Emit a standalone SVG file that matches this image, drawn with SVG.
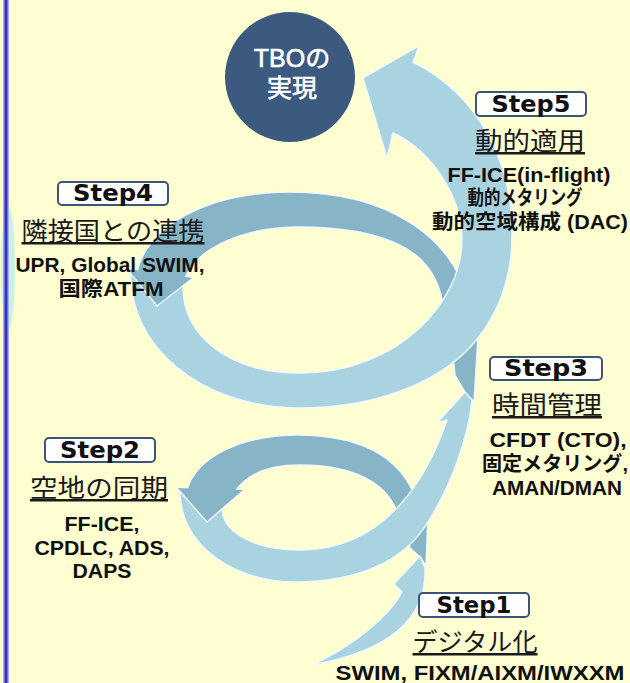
<svg xmlns="http://www.w3.org/2000/svg" width="630" height="683" viewBox="0 0 630 683">
<defs>
<style>
.lt{fill:#A9D3E1;stroke:#F2FAFC;stroke-width:1.4;stroke-linejoin:round}
.dk{fill:#87B5C7;stroke:#F2FAFC;stroke-width:1.4;stroke-linejoin:round}
.box{fill:#FFFFFF;stroke:#3B5578;stroke-width:2}
.stp{font-family:"DejaVu Sans","Liberation Sans",sans-serif;font-weight:bold;font-size:23px;fill:#111111;text-anchor:middle}
.ttl{font-family:"Noto Sans CJK JP","Noto Sans",sans-serif;font-size:25px;fill:#1a1a1a;text-anchor:middle;text-decoration:underline}
.bdy{font-family:"Liberation Sans","Noto Sans CJK JP",sans-serif;font-weight:bold;font-size:20px;fill:#111111;text-anchor:middle}
.tbo{font-family:"Liberation Sans","Noto Sans CJK JP",sans-serif;font-size:25px;fill:#FFFFFF;stroke:#FFFFFF;stroke-width:0.6;text-anchor:middle}
</style>
</defs>
<rect x="0" y="0" width="630" height="683" fill="#FEFED0"/>
<ellipse cx="8" cy="268" rx="7" ry="62" fill="#BDEEEA" opacity="0.8"/>
<rect x="3" y="0" width="6" height="683" fill="#A8A8EC"/>
<rect x="4.5" y="0" width="3" height="683" fill="#3434C8"/>

<g id="connectors">
  <path class="dk" d="M449,320 L479,320 L474,402 L465,392 L455,375 Z"/>
  <path class="dk" d="M470,312 C458,235 385,192 290,192 C205,192 146,228 137,272 L183,283 C193,250 240,227 300,227 C420,228 440,272 444,312 Z"/>
  <path class="lt" d="M131,272 C128,345 200,408 300,408 C380,408 445,380 478,338 C500,310 512,275 512,235 C513,165 480,95 413,62 L419,46 L363,78 L387,158 L393,133 C430,150 462,195 462,240 C462,300 400,373 300,373 C232,373 181,338 183,283 Z"/>
  <path class="dk" d="M127,269 L157,306 L193,278"/>
  <path class="dk" d="M404,515 L428,515 L426,566 L420,557 L410,548 Z"/>
  <path class="dk" d="M420,515 C410,460 365,435 297,435 C240,435 196,458 187,490 L234,493 C246,474 270,465 300,465 C352,465 388,482 398,515 Z"/>
  <path class="lt" d="M180,490 C180,550 240,582 295,582 C360,582 405,560 428,522 C450,487 468,440 472,400 L465,392 L437,423 L447,420 C430,470 390,550 300,550 C250,550 222,530 222,508 L235,492 Z"/>
  <path class="dk" d="M177,488 L207,522 L244,490"/>
  <path class="lt" d="M420,556 L425,568 C427,615 395,650 312,665 C355,645 390,615 402,592 L394,584 Z"/>
</g>

<g id="tbo">
  <circle cx="290" cy="77" r="65" fill="#3C5A80"/>
  <text class="tbo" x="292" y="67">TBOの</text>
  <text class="tbo" x="292" y="97">実現</text>
</g>

<g id="step5">
  <rect class="box" x="476" y="92" width="110" height="24" rx="4"/>
  <text class="stp" x="531" y="112" textLength="79" lengthAdjust="spacingAndGlyphs">Step5</text>
  <text class="ttl" x="530" y="150" textLength="110" lengthAdjust="spacingAndGlyphs">動的適用</text>
  <text class="bdy" x="529" y="182" textLength="163" lengthAdjust="spacingAndGlyphs">FF-ICE(in-flight)</text>
  <text class="bdy" x="525" y="205" textLength="115" lengthAdjust="spacingAndGlyphs">動的メタリング</text>
  <text class="bdy" x="530" y="229" textLength="196" lengthAdjust="spacingAndGlyphs">動的空域構成 (DAC)</text>
</g>

<g id="step4">
  <rect class="box" x="58" y="182" width="110" height="23" rx="4"/>
  <text class="stp" x="113" y="201" textLength="80" lengthAdjust="spacingAndGlyphs">Step4</text>
  <text class="ttl" x="113" y="240" textLength="183" lengthAdjust="spacingAndGlyphs">隣接国との連携</text>
  <text class="bdy" x="110" y="272" textLength="189" lengthAdjust="spacingAndGlyphs">UPR, Global SWIM,</text>
  <text class="bdy" x="111" y="296" textLength="105" lengthAdjust="spacingAndGlyphs">国際ATFM</text>
</g>

<g id="step3">
  <rect class="box" x="490" y="357" width="112" height="23" rx="4"/>
  <text class="stp" x="546" y="376" textLength="84" lengthAdjust="spacingAndGlyphs">Step3</text>
  <text class="ttl" x="547" y="414" textLength="110" lengthAdjust="spacingAndGlyphs">時間管理</text>
  <text class="bdy" x="558" y="447" textLength="137" lengthAdjust="spacingAndGlyphs">CFDT (CTO),</text>
  <text class="bdy" x="555" y="471" textLength="146" lengthAdjust="spacingAndGlyphs">固定メタリング,</text>
  <text class="bdy" x="557" y="495" textLength="130" lengthAdjust="spacingAndGlyphs">AMAN/DMAN</text>
</g>

<g id="step2">
  <rect class="box" x="45" y="438" width="110" height="24" rx="4"/>
  <text class="stp" x="100" y="458" textLength="80" lengthAdjust="spacingAndGlyphs">Step2</text>
  <text class="ttl" x="99" y="497" textLength="138" lengthAdjust="spacingAndGlyphs">空地の同期</text>
  <text class="bdy" x="102" y="531" textLength="75" lengthAdjust="spacingAndGlyphs">FF-ICE,</text>
  <text class="bdy" x="102" y="555" textLength="135" lengthAdjust="spacingAndGlyphs">CPDLC, ADS,</text>
  <text class="bdy" x="102" y="578" textLength="59" lengthAdjust="spacingAndGlyphs">DAPS</text>
</g>

<g id="step1">
  <rect class="box" x="419" y="593" width="110" height="24" rx="4"/>
  <text class="stp" x="474" y="613" textLength="75" lengthAdjust="spacingAndGlyphs">Step1</text>
  <text class="ttl" x="475" y="651" textLength="125" lengthAdjust="spacingAndGlyphs">デジタル化</text>
  <text class="bdy" x="480" y="680" textLength="289" lengthAdjust="spacingAndGlyphs">SWIM, FIXM/AIXM/IWXXM</text>
</g>
</svg>
